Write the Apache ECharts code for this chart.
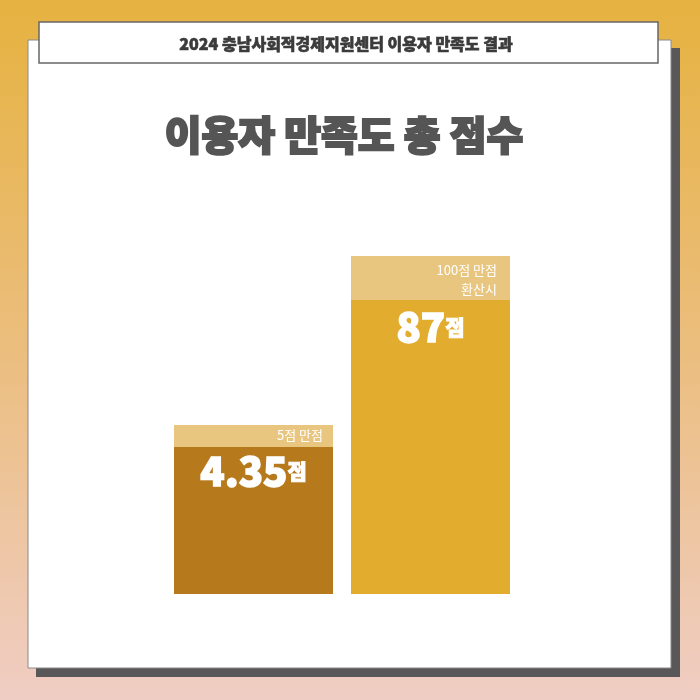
<!DOCTYPE html>
<html>
<head>
<meta charset="utf-8">
<script src="https://cdn.jsdelivr.net/npm/echarts@6/dist/echarts.min.js"></script>
<style>html,body{margin:0;padding:0;}#main{width:700px;height:700px;}</style>
</head>
<body>
<div id="main"></div>
<script>
// ---- data ----
const headerText = '2024 충남사회적경제지원센터 이용자 만족도 결과';
const titleText = '이용자 만족도 총 점수';
const categories = ['5점 만점', '100점 만점\n환산시'];
const scores = [4.35, 87];
const maxScores = [5, 100];
const unit = '점';

const FONT = '"Noto Sans CJK KR", "Noto Sans", sans-serif';
const chart = echarts.init(document.getElementById('main'));

const remainder = maxScores.map((m, i) => +(m - scores[i]).toFixed(2));

const valueLabel = (dist) => ({
  show: true,
  position: 'insideTop',
  distance: dist,
  formatter: p => '{n|' + p.value + '}{u|' + unit + '}',
  rich: {
    n: { fontSize: 40, fontWeight: 900, color: '#fff', fontFamily: FONT, lineHeight: 44, textBorderColor: '#fff', textBorderWidth: 1.5 },
    u: { fontSize: 21, fontWeight: 900, color: '#fff', fontFamily: FONT, lineHeight: 44, textBorderColor: '#fff', textBorderWidth: 1 }
  }
});
const bandLabel = (off) => ({
  show: true,
  position: 'insideTopRight',
  distance: 0,
  offset: off,
  formatter: p => p.name,
  color: '#fff',
  fontSize: 13,
  lineHeight: 19,
  fontFamily: FONT,
  align: 'right'
});

const option = {
  backgroundColor: {
    type: 'linear', x: 0, y: 0, x2: 0, y2: 1,
    colorStops: [
      { offset: 0, color: '#E6B240' },
      { offset: 0.5, color: '#EBBE7E' },
      { offset: 1, color: '#F0CDC4' }
    ]
  },
  animation: false,
  graphic: [
    { type: 'rect', z: 0, shape: { x: 36, y: 48, width: 644, height: 629 }, style: { fill: '#595757' } },
    { type: 'rect', z: 1, shape: { x: 28, y: 40, width: 643, height: 628 }, style: { fill: '#ffffff', stroke: '#8a8a8a', lineWidth: 1 } },
    { type: 'rect', z: 2, shape: { x: 39, y: 22, width: 619, height: 41 }, style: { fill: '#ffffff', stroke: '#666666', lineWidth: 1.5 } },
    { type: 'text', z: 3, x: 346, y: 44, style: { text: headerText, fill: '#3b3b3b', stroke: '#3b3b3b', lineWidth: 0.6, font: '900 16px ' + FONT, textAlign: 'center', textVerticalAlign: 'middle' } },
    { type: 'text', z: 3, x: 344, y: 135, style: { text: titleText, fill: '#555555', stroke: '#555555', lineWidth: 2, font: '900 40px ' + FONT, textAlign: 'center', textVerticalAlign: 'middle' } }
  ],
  grid: { left: 165, width: 354, top: 256, height: 338 },
  xAxis: { type: 'category', data: categories, show: false },
  yAxis: [
    { type: 'value', min: 0, max: maxScores[0] * 2, show: false },
    { type: 'value', min: 0, max: maxScores[1], show: false }
  ],
  series: [
    {
      type: 'bar', yAxisIndex: 0, stack: 'L', z: 10, barWidth: 159, barGap: '-100%',
      data: [scores[0], '-'], itemStyle: { color: '#B67A1C' }, label: valueLabel(2)
    },
    {
      type: 'bar', yAxisIndex: 0, stack: 'L', z: 10, barWidth: 159, barGap: '-100%',
      data: [remainder[0], '-'], itemStyle: { color: '#E9C67F' }, label: bandLabel([-10, 1])
    },
    {
      type: 'bar', yAxisIndex: 1, stack: 'R', z: 10, barWidth: 159, barGap: '-100%',
      data: ['-', scores[1]], itemStyle: { color: '#E2AC2E' }, label: valueLabel(5)
    },
    {
      type: 'bar', yAxisIndex: 1, stack: 'R', z: 10, barWidth: 159, barGap: '-100%',
      data: ['-', remainder[1]], itemStyle: { color: '#E9C67F' }, label: bandLabel([-13, 5])
    }
  ]
};
chart.setOption(option);
</script>
</body>
</html>
